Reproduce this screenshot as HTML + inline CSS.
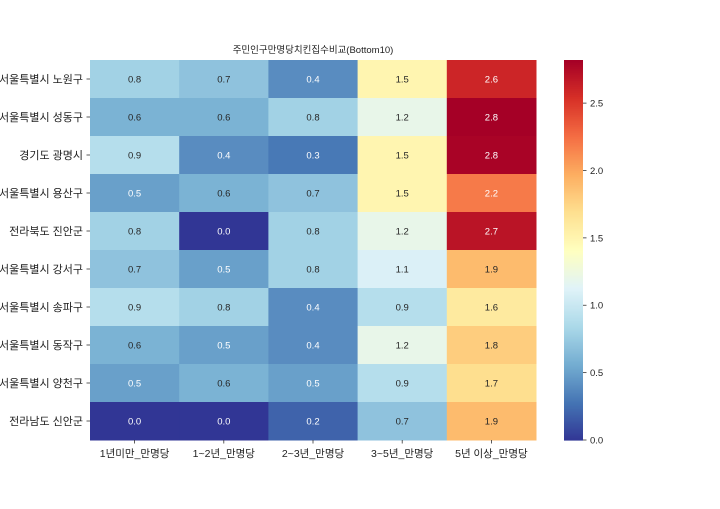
<!DOCTYPE html>
<html><head><meta charset="utf-8"><style>
body{margin:0;background:#fff;}
svg text{font-family:"Liberation Sans","Noto Sans CJK KR",sans-serif;}
</style></head><body>
<svg id="chart" width="720" height="504"></svg>
<script>
const rowLabels=["서울특별시 노원구","서울특별시 성동구","경기도 광명시","서울특별시 용산구","전라북도 진안군","서울특별시 강서구","서울특별시 송파구","서울특별시 동작구","서울특별시 양천구","전라남도 신안군"];
const colLabels=["1년미만_만명당","1~2년_만명당","2~3년_만명당","3~5년_만명당","5년 이상_만명당"];
const row1=[0.8,0.7,0.4,1.5,2.6];
const row2=[0.6,0.6,0.8,1.2,2.82];
const row3=[0.9,0.4,0.3,1.5,2.8];
const row4=[0.5,0.6,0.7,1.5,2.2];
const row5=[0.8,0.0,0.8,1.2,2.7];
const row6=[0.7,0.5,0.8,1.1,1.9];
const row7=[0.9,0.8,0.4,0.9,1.6];
const row8=[0.6,0.5,0.4,1.2,1.8];
const row9=[0.5,0.6,0.5,0.9,1.7];
const row10=[0.0,0.0,0.2,0.7,1.9];
const values=[row1,row2,row3,row4,row5,row6,row7,row8,row9,row10];
const cbTicks=[0.0,0.5,1.0,1.5,2.0,2.5];
const vmin=0,vmax=2.82;
const X0=90,X1=536,Y0=60,Y1=440;
const cw=(X1-X0)/colLabels.length, rh=(Y1-Y0)/rowLabels.length;
const stops=["#313695","#4575b4","#74add1","#abd9e9","#e0f3f8","#ffffbf","#fee090","#fdae61","#f46d43","#d73027","#a50026"];
function hex(h){return [1,3,5].map(i=>parseInt(h.substr(i,2),16));}
function cmapRGB(v){let t=Math.max(0,Math.min(1,(v-vmin)/(vmax-vmin)))*(stops.length-1);let i=Math.min(Math.floor(t),stops.length-2);let f=t-i;let a=hex(stops[i]),b=hex(stops[i+1]);return a.map((x,k)=>Math.round(x+(b[k]-x)*f));}
function rgbStr(c){return `rgb(${c[0]},${c[1]},${c[2]})`;}
function lum(c){const l=c.map(x=>{x/=255;return x<=0.03928?x/12.92:Math.pow((x+0.055)/1.055,2.4);});return 0.2126*l[0]+0.7152*l[1]+0.0722*l[2];}
const svg=document.getElementById('chart');const NS="http://www.w3.org/2000/svg";
function el(t,a,p){const e=document.createElementNS(NS,t);for(const k in a)e.setAttribute(k,a[k]);(p||svg).appendChild(e);return e;}
const xS=i=>X0+i*cw, yS=j=>Y0+j*rh;
const title=el('text',{x:313,y:53,'text-anchor':'middle','font-size':9.5,fill:'#222'});title.textContent="주민인구만명당치킨집수비교(Bottom10)";


values.forEach((row,j)=>row.forEach((v,i)=>{
  const c=cmapRGB(v);
  const r=el('rect',{x:xS(i),y:yS(j),width:cw+0.5,height:rh+0.5,fill:rgbStr(c)});
  
  
  const t=el('text',{x:xS(i)+cw/2,y:yS(j)+rh/2+3.5,'text-anchor':'middle','font-size':9.5,fill:lum(c)<0.408?'#fff':'#262626'});
  t.textContent=v.toFixed(1);
  
  
}));
rowLabels.forEach((l,j)=>{
  const y=yS(j)+rh/2;
  el('line',{x1:X0-3.5,x2:X0,y1:y,y2:y,stroke:'#333','stroke-width':0.8});
  const t=el('text',{x:X0-7,y:y+4,'text-anchor':'end','font-size':11,fill:'#222'});t.textContent=l;
  
  
});
colLabels.forEach((l,i)=>{
  const x=xS(i)+cw/2;
  el('line',{x1:x,x2:x,y1:Y1,y2:Y1+3.5,stroke:'#333','stroke-width':0.8});
  const t=el('text',{x:x,y:Y1+17,'text-anchor':'middle','font-size':10.5,fill:'#222'});t.textContent=l;
  
  
});
const CX=564,CW=19,N=190;
const cbg=el('g',{});


for(let k=0;k<N;k++){const v=vmin+(k+0.5)/N*(vmax-vmin);const h=(Y1-Y0)/N;el('rect',{x:CX,y:Y1-(k+1)*h,width:CW,height:h+0.6,fill:rgbStr(cmapRGB(v))},cbg);}
const cy=v=>Y1-(v-vmin)/(vmax-vmin)*(Y1-Y0);
cbTicks.forEach(v=>{
  const y=cy(v);
  el('line',{x1:CX+CW,x2:CX+CW+3.5,y1:y,y2:y,stroke:'#333','stroke-width':0.8});
  const t=el('text',{x:CX+CW+7,y:y+3.5,'font-size':9.5,fill:'#222'});t.textContent=v.toFixed(1);
  
  
});
</script>
</body></html>
